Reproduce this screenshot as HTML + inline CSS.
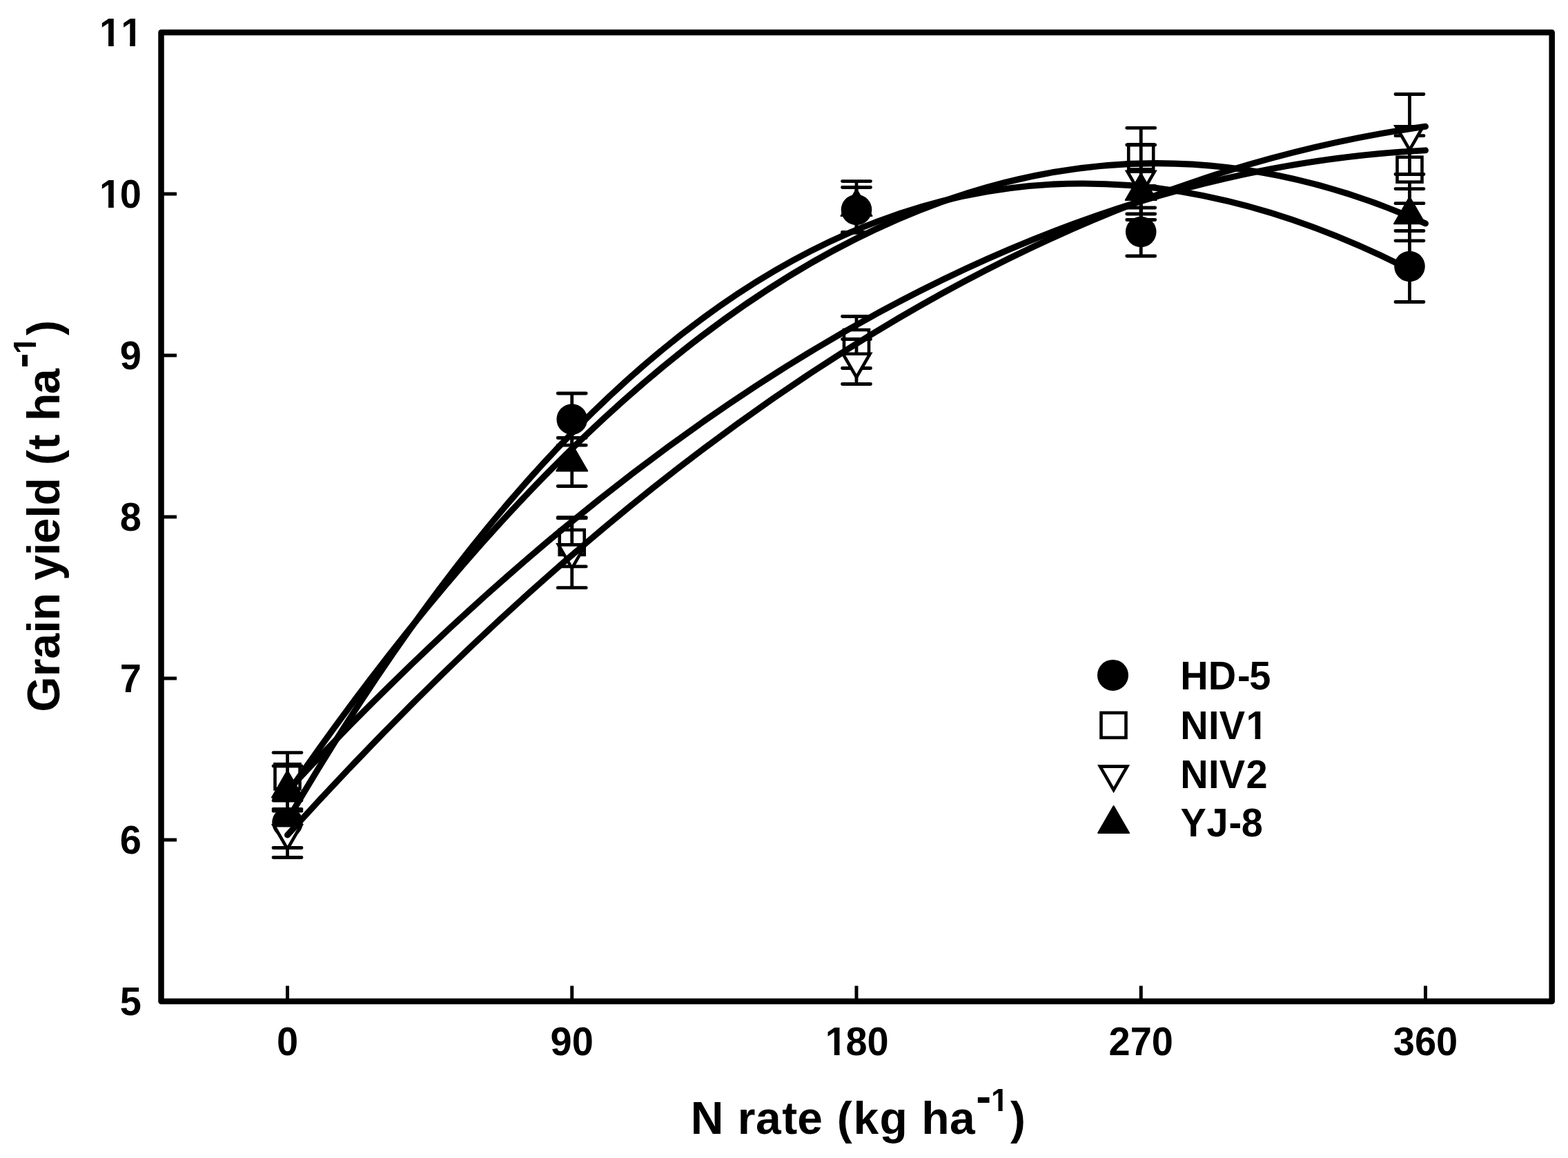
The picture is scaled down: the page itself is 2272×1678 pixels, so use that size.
<!DOCTYPE html>
<html><head><meta charset="utf-8"><title>Grain yield vs N rate</title>
<style>
html,body{margin:0;padding:0;background:#fff;overflow:hidden}
svg{display:block}
.ax{fill:none;stroke:#000;stroke-width:8.5;stroke-linejoin:round}
.tk{fill:none;stroke:#000;stroke-width:5}
.eb{fill:none;stroke:#000;stroke-width:4.8;stroke-linecap:round}
.op{fill:#fff;stroke:#000;stroke-width:4.6;stroke-linejoin:miter}
.ft{fill:#000;stroke:#000;stroke-width:2;stroke-linejoin:round}
.cv{fill:none;stroke:#000;stroke-width:9;stroke-linecap:round;stroke-linejoin:round}
text{font-family:"Liberation Sans",Arial,Helvetica,sans-serif;font-weight:bold;fill:#000;font-kerning:none}
.tl,.lg{font-size:56px}
.ti{font-size:66px}
.sp{font-size:45px}
</style></head>
<body>
<svg width="2272" height="1678" viewBox="0 0 2272 1678">
<defs><clipPath id="c1" clipPathUnits="userSpaceOnUse"><path clip-rule="evenodd" d="M-3000 -3000H5000V5000H-3000ZM145.05 294.49H157.08V303.00H145.05ZM164.76 294.49H175.18V303.00H164.76Z"/></clipPath>
<clipPath id="c2" clipPathUnits="userSpaceOnUse"><path clip-rule="evenodd" d="M-3000 -3000H5000V5000H-3000ZM145.05 60.49H157.08V69.00H145.05ZM164.76 60.49H175.18V69.00H164.76ZM176.20 60.49H188.23V69.00H176.20ZM195.91 60.49H206.33V69.00H195.91Z"/></clipPath>
<clipPath id="c3" clipPathUnits="userSpaceOnUse"><path clip-rule="evenodd" d="M-3000 -3000H5000V5000H-3000ZM1196.82 1522.49H1208.85V1531.00H1196.82ZM1216.54 1522.49H1226.96V1531.00H1216.54Z"/></clipPath>
<clipPath id="c4" clipPathUnits="userSpaceOnUse"><path clip-rule="evenodd" d="M-3000 -3000H5000V5000H-3000ZM1806.54 1064.29H1818.57V1072.80H1806.54ZM1826.25 1064.29H1836.67V1072.80H1826.25Z"/></clipPath>
<clipPath id="c5" clipPathUnits="userSpaceOnUse"><path clip-rule="evenodd" d="M-3000 -3000H5000V5000H-3000ZM1436.72 1604.61H1446.50V1612.00H1436.72ZM1452.68 1604.61H1461.05V1612.00H1452.68Z"/></clipPath>
<clipPath id="c6" clipPathUnits="userSpaceOnUse"><path clip-rule="evenodd" d="M-3000 -3000H5000V5000H-3000ZM-512.38 -39.49H-502.60V-32.10H-512.38ZM-496.42 -39.49H-488.05V-32.10H-496.42Z"/></clipPath></defs>
<rect width="2272" height="1678" fill="#fff"/>
<rect x="233.5" y="47" width="2015.2" height="1404" class="ax"/>
<path d="M236 1217.00H256" class="tk"/>
<path d="M236 983.00H256" class="tk"/>
<path d="M236 749.00H256" class="tk"/>
<path d="M236 515.00H256" class="tk"/>
<path d="M236 281.00H256" class="tk"/>
<path d="M416.50 1449V1428.5" class="tk"/>
<path d="M828.75 1449V1428.5" class="tk"/>
<path d="M1241.00 1449V1428.5" class="tk"/>
<path d="M1653.25 1449V1428.5" class="tk"/>
<path d="M2065.50 1449V1428.5" class="tk"/>
<path d="M416.50 1155.50V1228.50M396.00 1155.50H437.00M396.00 1228.50H437.00" class="eb"/>
<path d="M828.75 570.00V645.20M808.25 570.00H849.25M808.25 645.20H849.25" class="eb"/>
<path d="M1241.00 271.50V336.50M1220.50 271.50H1261.50M1220.50 336.50H1261.50" class="eb"/>
<path d="M1653.25 301.00V371.00M1632.75 301.00H1673.75M1632.75 371.00H1673.75" class="eb"/>
<path d="M2042.50 334.50V437.50M2022.00 334.50H2063.00M2022.00 437.50H2063.00" class="eb"/>
<circle cx="416.50" cy="1192.00" r="22.3"/>
<circle cx="828.75" cy="607.60" r="22.3"/>
<circle cx="1241.00" cy="304.00" r="22.3"/>
<circle cx="1653.25" cy="336.00" r="22.3"/>
<circle cx="2042.50" cy="386.00" r="22.3"/>
<path d="M416.50 1090.60V1160.00M396.00 1090.60H437.00M396.00 1160.00H437.00" class="eb"/>
<path d="M828.75 750.90V820.90M808.25 750.90H849.25M808.25 820.90H849.25" class="eb"/>
<path d="M1241.00 458.50V533.50M1220.50 458.50H1261.50M1220.50 533.50H1261.50" class="eb"/>
<path d="M1653.25 185.40V269.40M1632.75 185.40H1673.75M1632.75 269.40H1673.75" class="eb"/>
<path d="M2042.50 196.70V294.70M2022.00 196.70H2063.00M2022.00 294.70H2063.00" class="eb"/>
<rect x="398.50" y="1107.30" width="36.0" height="36.0" class="op"/>
<rect x="810.75" y="767.90" width="36.0" height="36.0" class="op"/>
<rect x="1223.00" y="478.00" width="36.0" height="36.0" class="op"/>
<rect x="1635.25" y="209.40" width="36.0" height="36.0" class="op"/>
<rect x="2024.50" y="227.70" width="36.0" height="36.0" class="op"/>
<path d="M416.50 1172.50V1242.50M396.00 1172.50H437.00M396.00 1242.50H437.00" class="eb"/>
<path d="M828.75 749.70V851.70M808.25 749.70H849.25M808.25 851.70H849.25" class="eb"/>
<path d="M1241.00 491.50V556.50M1220.50 491.50H1261.50M1220.50 556.50H1261.50" class="eb"/>
<path d="M1653.25 210.00V310.00M1632.75 210.00H1673.75M1632.75 310.00H1673.75" class="eb"/>
<path d="M2042.50 136.50V252.50M2022.00 136.50H2063.00M2022.00 252.50H2063.00" class="eb"/>
<path d="M396.90 1196.18L436.10 1196.18L416.50 1230.13Z" class="op"/>
<path d="M809.15 789.38L848.35 789.38L828.75 823.33Z" class="op"/>
<path d="M1221.40 512.68L1260.60 512.68L1241.00 546.63Z" class="op"/>
<path d="M1633.65 248.68L1672.85 248.68L1653.25 282.63Z" class="op"/>
<path d="M2022.90 183.18L2062.10 183.18L2042.50 217.13Z" class="op"/>
<path d="M416.50 1110.00V1175.20M396.00 1110.00H437.00M396.00 1175.20H437.00" class="eb"/>
<path d="M828.75 634.50V704.50M808.25 634.50H849.25M808.25 704.50H849.25" class="eb"/>
<path d="M1241.00 262.60V337.40M1220.50 262.60H1261.50M1220.50 337.40H1261.50" class="eb"/>
<path d="M1653.25 235.50V318.50M1632.75 235.50H1673.75M1632.75 318.50H1673.75" class="eb"/>
<path d="M2042.50 273.60V348.80M2022.00 273.60H2063.00M2022.00 348.80H2063.00" class="eb"/>
<path d="M394.00 1155.59L439.00 1155.59L416.50 1116.62Z" class="ft"/>
<path d="M806.25 682.49L851.25 682.49L828.75 643.52Z" class="ft"/>
<path d="M1218.50 312.99L1263.50 312.99L1241.00 274.02Z" class="ft"/>
<path d="M1630.75 289.99L1675.75 289.99L1653.25 251.02Z" class="ft"/>
<path d="M2020.00 324.19L2065.00 324.19L2042.50 285.22Z" class="ft"/>
<path d="M416.50 1188.69C958.50 259.12 1500.50 115.61 2042.50 390.59" class="cv"/>
<path d="M416.50 1145.91C966.17 555.00 1515.83 245.65 2065.50 217.87" class="cv"/>
<path d="M416.50 1210.01C966.17 602.91 1515.83 260.68 2065.50 183.33" class="cv"/>
<path d="M416.50 1150.26C966.17 352.91 1515.83 77.43 2065.50 323.82" class="cv"/>
<circle cx="1612.5" cy="978.4" r="22.5"/>
<rect x="1595.50" y="1032.90" width="36.0" height="36.0" class="op"/>
<path d="M1594.00 1110.58L1633.20 1110.58L1613.60 1144.53Z" class="op"/>
<path d="M1591.10 1206.99L1636.10 1206.99L1613.60 1168.02Z" class="ft"/>
<g transform="matrix(1 0 0 1.0350 0 -51.485)"><text x="173.66" y="1471.00" class="tl">5</text></g>
<g transform="matrix(1 0 0 1.0350 0 -43.295)"><text x="173.66" y="1237.00" class="tl">6</text></g>
<g transform="matrix(1 0 0 1.0350 0 -35.105)"><text x="173.66" y="1003.00" class="tl">7</text></g>
<g transform="matrix(1 0 0 1.0350 0 -26.915)"><text x="173.66" y="769.00" class="tl">8</text></g>
<g transform="matrix(1 0 0 1.0350 0 -18.725)"><text x="173.66" y="535.00" class="tl">9</text></g>
<g transform="matrix(1 0 0 1.0350 0 -10.535)"><text x="144.01 173.66" y="301.00" class="tl" clip-path="url(#c1)">10</text></g>
<g transform="matrix(1 0 0 1.0350 0 -2.345)"><text x="144.01 175.16" y="67.00" class="tl" clip-path="url(#c2)">11</text></g>
<g transform="matrix(1 0 0 1.0350 0 -53.515)"><text x="400.93" y="1529.00" class="tl">0</text></g>
<g transform="matrix(1 0 0 1.0350 0 -53.515)"><text x="797.61 828.75" y="1529.00" class="tl">90</text></g>
<g transform="matrix(1 0 0 1.0350 0 -53.515)"><text x="1195.78 1225.43 1256.57" y="1529.00" class="tl" clip-path="url(#c3)">180</text></g>
<g transform="matrix(1 0 0 1.0350 0 -53.515)"><text x="1606.53 1637.68 1668.82" y="1529.00" class="tl">270</text></g>
<g transform="matrix(1 0 0 1.0350 0 -53.515)"><text x="2018.78 2049.93 2081.07" y="1529.00" class="tl">360</text></g>
<g transform="matrix(1 0 0 1.0350 0 -34.958)"><text x="1710.15 1750.75 1793.00 1810.20" y="998.80" class="lg">HD-5</text></g>
<g transform="matrix(1 0 0 1.0350 0 -37.478)"><text x="1710.15 1750.90 1766.70 1805.50" y="1070.80" class="lg" clip-path="url(#c4)">NIV1</text></g>
<g transform="matrix(1 0 0 1.0350 0 -39.966)"><text x="1710.15 1750.90 1766.70 1805.60" y="1141.90" class="lg">NIV2</text></g>
<g transform="matrix(1 0 0 1.0350 0 -42.434)"><text x="1710.60 1748.40 1780.40 1798.70" y="1212.40" class="lg">YJ-8</text></g>
<g transform="matrix(1 0 0 1.0200 0 -32.860)"><text x="1000.69 1048.40 1068.65 1094.97 1133.20 1155.22 1191.90 1212.71 1236.60 1274.40 1315.80 1335.19 1376.07" y="1643.00" class="ti">N rate (kg ha</text></g>
<g transform="matrix(1 0 0 1.0200 0 -32.220)"><text x="1414.30" y="1611.00" class="ti">-</text></g>
<g transform="matrix(1 0 0 1.0200 0 -32.200)"><text x="1436.00" y="1610.00" class="sp" clip-path="url(#c5)">1</text></g>
<g transform="matrix(1 0 0 1.0200 0 -32.860)"><text x="1464.00" y="1643.00" class="ti">)</text></g>
<g transform="translate(86.1 0) rotate(-90)"><g transform="matrix(1 0 0 1.0200 0 -0.000)"><text x="-1031.80 -980.25 -954.83 -917.41 -899.25 -858.90 -840.92 -805.11 -787.58 -750.61 -732.41 -692.10 -673.99 -651.61 -629.60 -610.01 -570.93" y="0.00" class="ti">Grain yield (t ha</text></g><g transform="matrix(1 0 0 1.0200 0 0.658)"><text x="-533.40" y="-32.90" class="ti">-</text></g><g transform="matrix(1 0 0 1.0200 0 0.682)"><text x="-513.10" y="-34.10" class="sp" clip-path="url(#c6)">1</text></g><g transform="matrix(1 0 0 1.0200 0 -0.000)"><text x="-485.96" y="0.00" class="ti">)</text></g></g>
</svg>
</body></html>
